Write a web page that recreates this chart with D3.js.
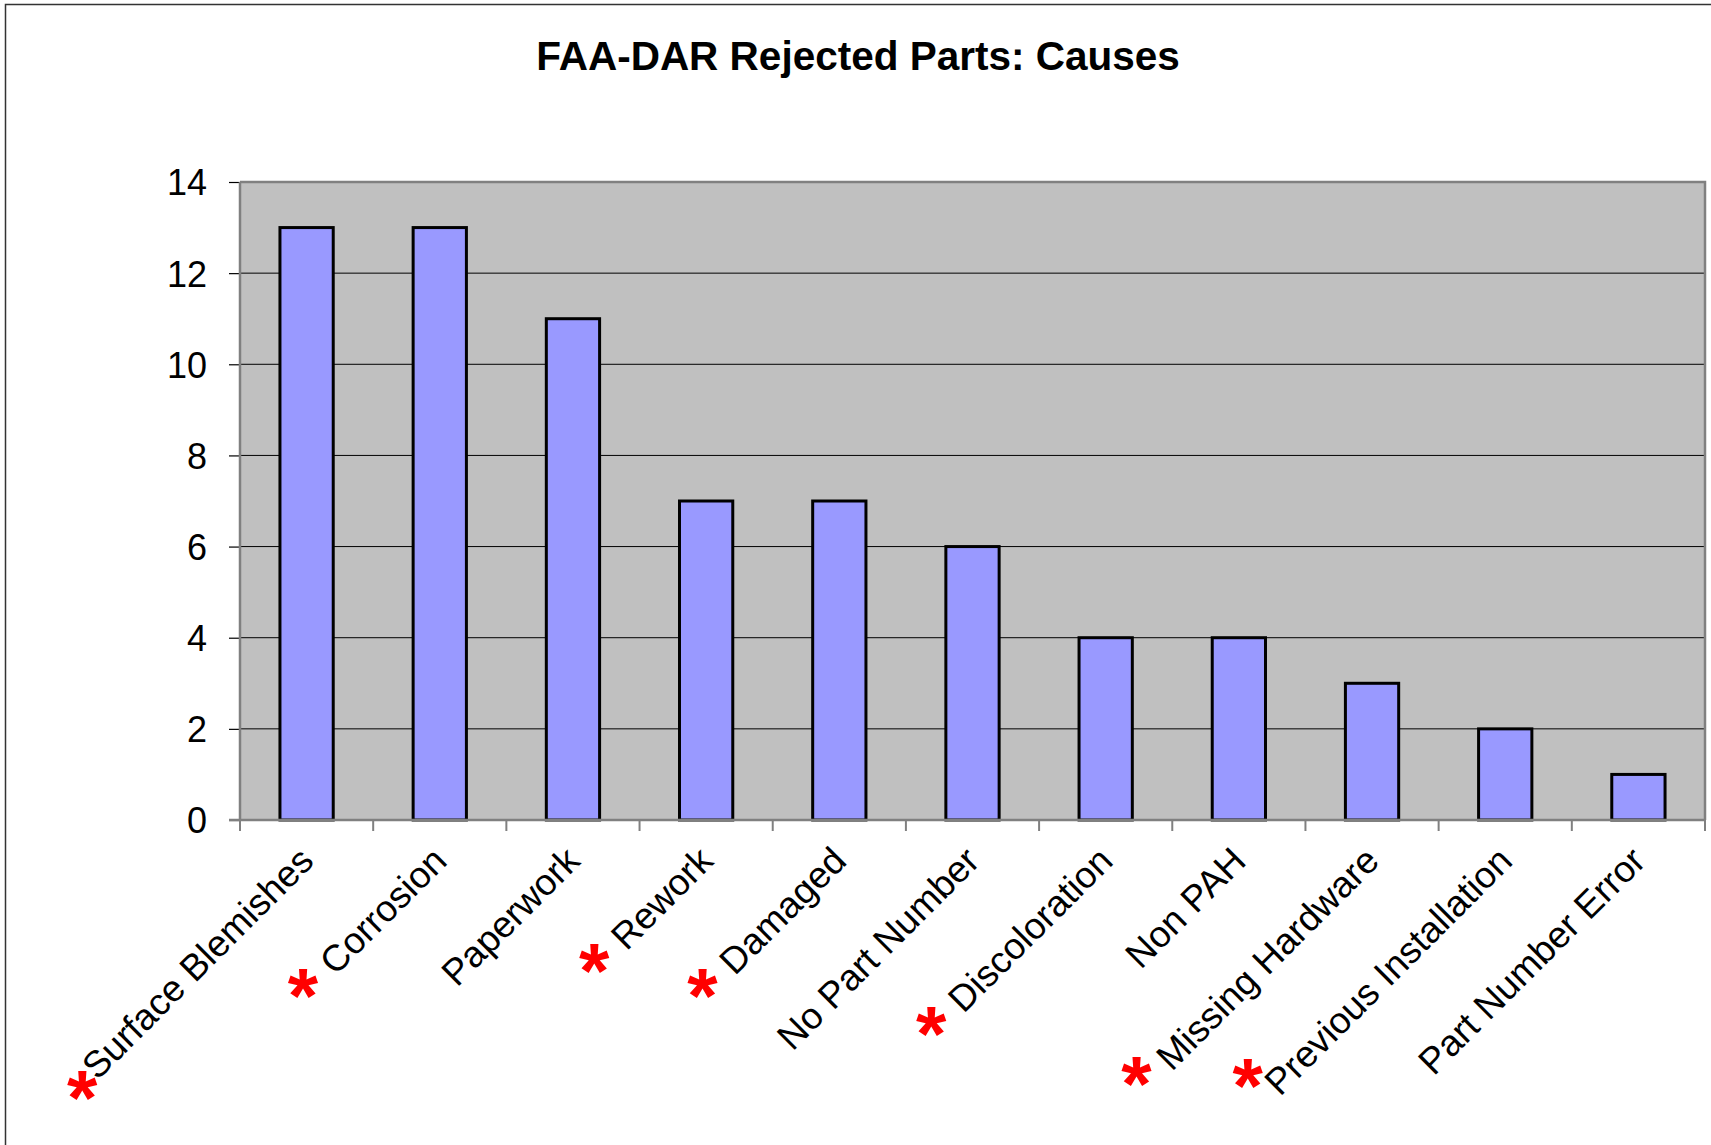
<!DOCTYPE html>
<html>
<head>
<meta charset="utf-8">
<script src="https://cdn.jsdelivr.net/npm/d3@7"></script>
<style>
  html, body { margin: 0; padding: 0; background: #ffffff; }
  svg { display: block; }
  text { font-family: "Liberation Sans", Arial, sans-serif; }
</style>
</head>
<body>
<svg id="chart" width="1711" height="1145"></svg>
<script>
const title = "FAA-DAR Rejected Parts: Causes";
const categories = ["Surface Blemishes", "Corrosion", "Paperwork", "Rework", "Damaged",
  "No Part Number", "Discoloration", "Non PAH", "Missing Hardware",
  "Previous Installation", "Part Number Error"];
const values = [13, 13, 11, 7, 7, 6, 4, 4, 3, 2, 1];
const flagged = ["Surface Blemishes", "Corrosion", "Rework", "Damaged",
  "Discoloration", "Missing Hardware", "Previous Installation"];
const yTicks = [0, 2, 4, 6, 8, 10, 12, 14];

const W = 1711, H = 1145;
const plot = { left: 240, right: 1705, top: 182, bottom: 820 };
const svg = d3.select("#chart");

// small hand-placement nudges of the red markers (layout, not data)
const starNudge = {
  "Surface Blemishes": [17, -3],
  "Missing Hardware": [-3, -8],
  "Previous Installation": [0, -31]
};

// outer frame
svg.append("rect").attr("x", 5.5).attr("y", 4.5).attr("width", W + 20).attr("height", H + 20)
  .attr("fill", "#ffffff").attr("stroke", "#333333").attr("stroke-width", 1.5);

// title
svg.append("text").attr("x", 858).attr("y", 70).attr("text-anchor", "middle")
  .attr("font-size", 40.5).attr("font-weight", "bold").attr("fill", "#000").text(title);

const x = d3.scaleBand().domain(categories).range([plot.left, plot.right])
  .paddingInner(0.6).paddingOuter(0.3);
const y = d3.scaleLinear().domain([0, 14]).range([plot.bottom, plot.top]);

// plot background
svg.append("rect").attr("x", plot.left).attr("y", plot.top)
  .attr("width", plot.right - plot.left).attr("height", plot.bottom - plot.top)
  .attr("fill", "#C0C0C0");

// gridlines
svg.append("g").selectAll("line").data(yTicks.filter(t => t > 0 && t < 14)).join("line")
  .attr("x1", plot.left).attr("x2", plot.right)
  .attr("y1", d => y(d)).attr("y2", d => y(d))
  .attr("stroke", "#000").attr("stroke-width", 1);

// plot border (top, right)
svg.append("path")
  .attr("d", `M${plot.left},${plot.top}H${plot.right}V${plot.bottom}`)
  .attr("fill", "none").attr("stroke", "#808080").attr("stroke-width", 2.5);

// y axis
const yAxis = d3.axisLeft(y).tickValues(yTicks).tickSize(11).tickPadding(22);
const gy = svg.append("g").attr("transform", `translate(${plot.left},0)`).call(yAxis);
gy.select(".domain").remove();
gy.selectAll(".tick line").attr("stroke", "#000").attr("stroke-width", 1.2);
gy.selectAll(".tick text").attr("font-size", 36).attr("fill", "#000")
  .attr("font-family", '"Liberation Sans", Arial, sans-serif').attr("dy", "0.36em");
svg.append("line").attr("x1", plot.left).attr("x2", plot.left)
  .attr("y1", plot.top).attr("y2", plot.bottom)
  .attr("stroke", "#808080").attr("stroke-width", 2.5);

// bars
svg.append("g").selectAll("rect").data(categories).join("rect")
  .attr("x", d => x(d)).attr("width", x.bandwidth())
  .attr("y", (d, i) => y(values[i])).attr("height", (d, i) => y(0) - y(values[i]))
  .attr("fill", "#9999FF").attr("stroke", "#000").attr("stroke-width", 3);

// x axis line and category-boundary ticks
svg.append("line").attr("x1", plot.left - 11).attr("x2", plot.right)
  .attr("y1", plot.bottom).attr("y2", plot.bottom)
  .attr("stroke", "#808080").attr("stroke-width", 2.5);
const gap = (x.step() - x.bandwidth()) / 2;
const boundaries = categories.map(c => x(c) - gap).concat([x(categories[categories.length - 1]) + x.bandwidth() + gap]);
svg.append("g").selectAll("line").data(boundaries).join("line")
  .attr("x1", d => d).attr("x2", d => d)
  .attr("y1", plot.bottom).attr("y2", plot.bottom + 11)
  .attr("stroke", "#808080").attr("stroke-width", 2);

// category labels
const labelG = svg.append("g");
const s2 = Math.SQRT1_2;
const starSize = 78;
categories.forEach((c, i) => {
  const ex = x(c) + x.bandwidth() / 2 + 9;
  const ey = plot.bottom + 43;
  const t = labelG.append("text")
    .attr("transform", `translate(${ex},${ey}) rotate(-45)`)
    .attr("text-anchor", "end").attr("font-size", 37).attr("fill", "#000").text(c);
  if (flagged.includes(c)) {
    const L = t.node().getComputedTextLength();
    const sx = ex - s2 * L, sy = ey + s2 * L;
    const n = starNudge[c] || [0, 0];
    const tx = sx - 32 + n[0], ty = sy + 3 + n[1];
    const a = labelG.append("text").attr("x", 0).attr("y", 0)
      .attr("font-size", starSize).attr("font-weight", "bold").attr("fill", "#FF0000").text("*");
    const bb = a.node().getBBox();
    const inkCy = -0.56 * starSize; // vertical centre of the asterisk ink relative to baseline
    a.attr("x", tx - bb.width / 2).attr("y", ty - inkCy);
  }
});
</script>
</body>
</html>
